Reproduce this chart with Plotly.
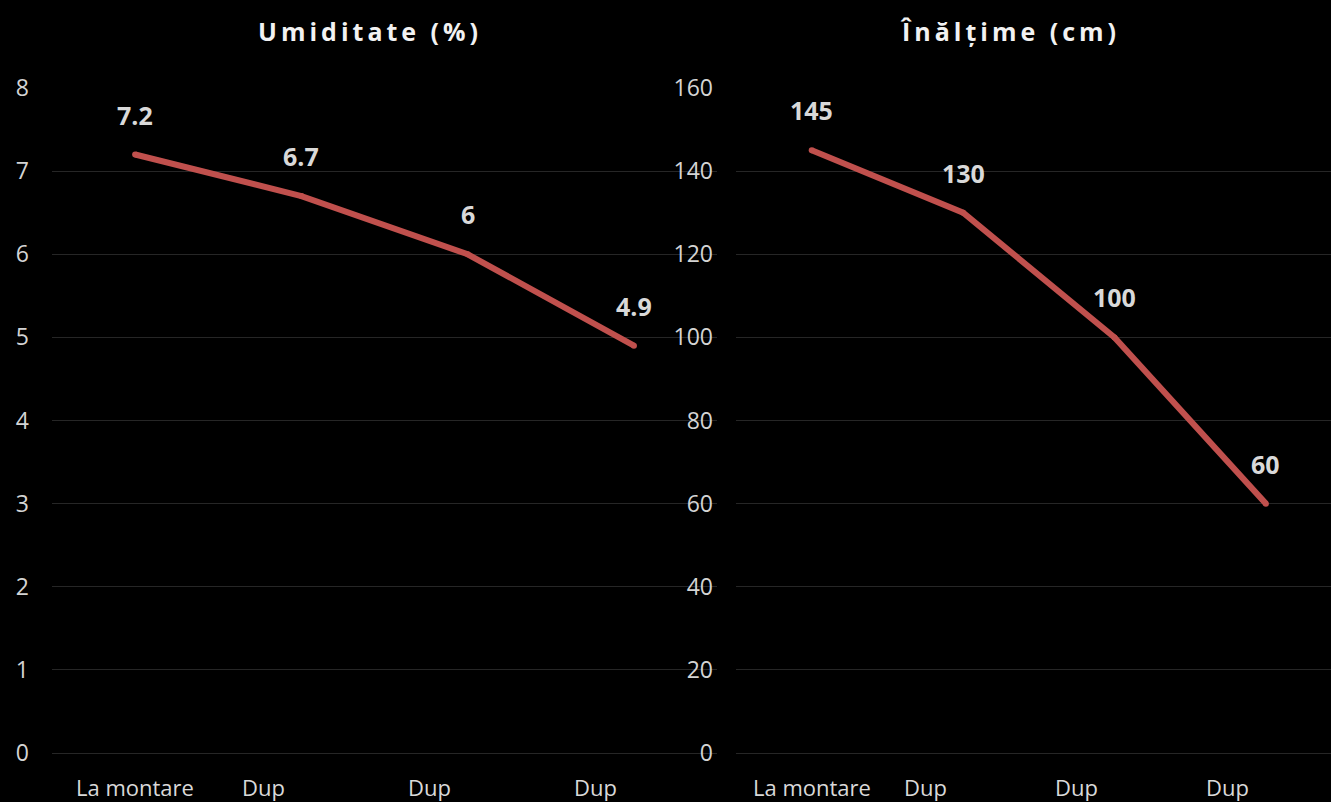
import plotly.graph_objects as go

# Measurements over the course of the experiment
stages = ["La montare", "Dup", "Dup", "Dup"]
humidity = [7.2, 6.7, 6, 4.9]          # Umiditate (%)
height_cm = [145, 130, 100, 60]        # Înălțime (cm)

hum_ticks = [0, 1, 2, 3, 4, 5, 6, 7, 8]
height_ticks = [0, 20, 40, 60, 80, 100, 120, 140, 160]

LINE_RED = "#c0504d"
GRID = "#262626"
TICK_COLOR = "#d4d4d4"
LABEL_COLOR = "#d9d9d9"
FONT = "Open Sans"

xs = list(range(len(stages)))

fig = go.Figure()
fig.add_trace(go.Scatter(x=xs, y=humidity, mode="lines+markers",
                         line=dict(color=LINE_RED, width=6),
                         marker=dict(color=LINE_RED, size=6),
                         xaxis="x", yaxis="y", hoverinfo="skip"))
fig.add_trace(go.Scatter(x=xs, y=height_cm, mode="lines+markers",
                         line=dict(color=LINE_RED, width=6),
                         marker=dict(color=LINE_RED, size=6),
                         xaxis="x2", yaxis="y2", hoverinfo="skip"))

annotations = []
for xa, ya, values in (("x", "y", humidity), ("x2", "y2", height_cm)):
    # value labels above each point
    for i, v in enumerate(values):
        annotations.append(dict(x=i, y=v, xref=xa, yref=ya, text=f"<b>{v:g}</b>",
                                showarrow=False, yshift=40, xanchor="center",
                                font=dict(family=FONT, size=25, color=LABEL_COLOR)))
    # category labels under the axis
    for i, s in enumerate(stages):
        annotations.append(dict(x=i, y=0, xref=xa, yref="paper", text=s,
                                showarrow=False, yanchor="middle", xanchor="center",
                                yshift=-34, xshift=0 if i == 0 else -38,
                                font=dict(family=FONT, size=22, color=LABEL_COLOR)))

# chart titles
for tx, title in ((0.2486, "Umiditate (%)"), (0.749, "Înălțime (cm)")):
    annotations.append(dict(x=tx, y=1.086, xref="paper", yref="paper",
                            text=f"<span style='letter-spacing:4px'><b>{title}</b></span>",
                            showarrow=False, xanchor="center", yanchor="middle",
                            font=dict(family=FONT, size=25, color="#f2f2f2")))

axis_common = dict(showgrid=False, zeroline=False, showline=False, showticklabels=False,
                   fixedrange=True)
yaxis_common = dict(showgrid=True, gridcolor=GRID, gridwidth=1.2, zeroline=True,
                    zerolinecolor=GRID, zerolinewidth=1.2, showline=False,
                    ticks="", ticklabelstandoff=22,
                    tickfont=dict(family=FONT, size=23, color=TICK_COLOR))

fig.update_layout(
    width=1331, height=802,
    paper_bgcolor="black", plot_bgcolor="black",
    margin=dict(l=52, r=0, t=88, b=49),
    showlegend=False,
    xaxis=dict(domain=[0, 0.52], range=[-0.5, 3.5], **axis_common),
    xaxis2=dict(domain=[0.5348, 1], range=[-0.5, 3.43], **axis_common),
    yaxis=dict(anchor="x", range=[0, 8], tickvals=hum_ticks, **yaxis_common),
    yaxis2=dict(anchor="x2", range=[0, 160], tickvals=height_ticks, **yaxis_common),
    annotations=annotations,
)

fig.write_html("out.html", config={"displayModeBar": False})
